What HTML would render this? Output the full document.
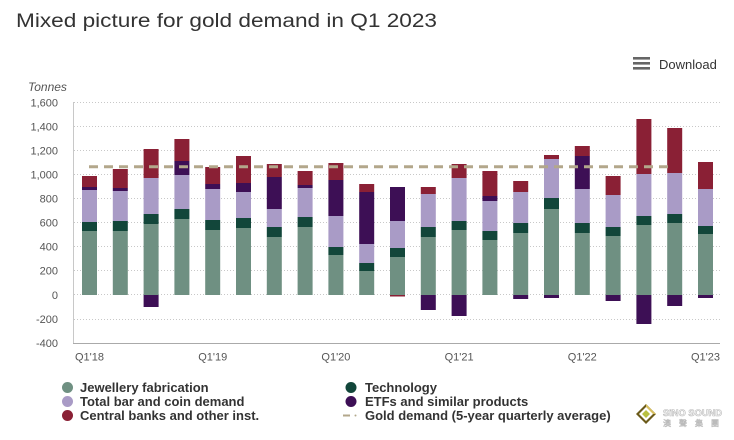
<!DOCTYPE html>
<html><head><meta charset="utf-8"><style>
html,body{margin:0;padding:0;background:#fff;}
svg{display:block;}
text{font-family:"Liberation Sans",Arial,sans-serif;}
</style></head><body>
<svg width="734" height="440" viewBox="0 0 734 440" xmlns="http://www.w3.org/2000/svg">
<rect width="734" height="440" fill="#fff"/>
<text x="16" y="27" font-size="19" fill="#333" textLength="421" lengthAdjust="spacingAndGlyphs">Mixed picture for gold demand in Q1 2023</text>
<g fill="#666"><rect x="633" y="57" width="17" height="2.6"/><rect x="633" y="62" width="17" height="2.6"/><rect x="633" y="67" width="17" height="2.6"/></g>
<text x="659" y="69" font-size="13" fill="#333">Download</text>
<text x="28" y="91" font-size="12" font-style="italic" fill="#555">Tonnes</text>
<g stroke="#c8c8c8" stroke-width="1" stroke-dasharray="1,2">
<line x1="74" x2="720" y1="102.5" y2="102.5"/><line x1="74" x2="720" y1="126.5" y2="126.5"/><line x1="74" x2="720" y1="150.5" y2="150.5"/><line x1="74" x2="720" y1="174.5" y2="174.5"/><line x1="74" x2="720" y1="198.5" y2="198.5"/><line x1="74" x2="720" y1="222.5" y2="222.5"/><line x1="74" x2="720" y1="246.5" y2="246.5"/><line x1="74" x2="720" y1="270.5" y2="270.5"/><line x1="74" x2="720" y1="294.5" y2="294.5"/><line x1="74" x2="720" y1="319.5" y2="319.5"/>
</g>
<line x1="73.5" x2="73.5" y1="102" y2="343" stroke="#c8c8c8"/>
<line x1="73" x2="720" y1="343.5" y2="343.5" stroke="#aaa"/>
<g font-size="11" fill="#555" text-anchor="end">
<text x="58" y="106.5">1,600</text><text x="58" y="130.5">1,400</text><text x="58" y="154.5">1,200</text><text x="58" y="178.5">1,000</text><text x="58" y="202.5">800</text><text x="58" y="226.5">600</text><text x="58" y="250.5">400</text><text x="58" y="274.5">200</text><text x="58" y="299">0</text><text x="58" y="323">-200</text><text x="58" y="347">-400</text>
</g>
<g font-size="11" fill="#555" text-anchor="middle">
<text x="89.5" y="360.5">Q1'18</text><text x="212.7" y="360.5">Q1'19</text><text x="335.9" y="360.5">Q1'20</text><text x="459.1" y="360.5">Q1'21</text><text x="582.3" y="360.5">Q1'22</text><text x="705.5" y="360.5">Q1'23</text>
</g>
<g id="bars">
<!-- bar 0 -->
<rect x="82" y="176" width="15" height="11" fill="#8a2035"/><rect x="82" y="187" width="15" height="3" fill="#3d0f55"/><rect x="82" y="190" width="15" height="32" fill="#a99bc6"/><rect x="82" y="222" width="15" height="9" fill="#12463a"/><rect x="82" y="231" width="15" height="64" fill="#6f9082"/>
<!-- bar 1 -->
<rect x="112.8" y="169" width="15" height="19" fill="#8a2035"/><rect x="112.8" y="188" width="15" height="3" fill="#3d0f55"/><rect x="112.8" y="191" width="15" height="30" fill="#a99bc6"/><rect x="112.8" y="221" width="15" height="10" fill="#12463a"/><rect x="112.8" y="231" width="15" height="64" fill="#6f9082"/>
<!-- bar 2 -->
<rect x="143.6" y="149" width="15" height="29" fill="#8a2035"/><rect x="143.6" y="178" width="15" height="36" fill="#a99bc6"/><rect x="143.6" y="214" width="15" height="10" fill="#12463a"/><rect x="143.6" y="224" width="15" height="71" fill="#6f9082"/><rect x="143.6" y="295" width="15" height="12" fill="#3d0f55"/>
<!-- bar 3 -->
<rect x="174.4" y="139" width="15" height="22" fill="#8a2035"/><rect x="174.4" y="161" width="15" height="14" fill="#3d0f55"/><rect x="174.4" y="175" width="15" height="34" fill="#a99bc6"/><rect x="174.4" y="209" width="15" height="10" fill="#12463a"/><rect x="174.4" y="219" width="15" height="76" fill="#6f9082"/>
<!-- bar 4 -->
<rect x="205.2" y="167" width="15" height="17" fill="#8a2035"/><rect x="205.2" y="184" width="15" height="5" fill="#3d0f55"/><rect x="205.2" y="189" width="15" height="31" fill="#a99bc6"/><rect x="205.2" y="220" width="15" height="10" fill="#12463a"/><rect x="205.2" y="230" width="15" height="65" fill="#6f9082"/>
<!-- bar 5 -->
<rect x="236" y="156" width="15" height="27" fill="#8a2035"/><rect x="236" y="183" width="15" height="9" fill="#3d0f55"/><rect x="236" y="192" width="15" height="26" fill="#a99bc6"/><rect x="236" y="218" width="15" height="10" fill="#12463a"/><rect x="236" y="228" width="15" height="67" fill="#6f9082"/>
<!-- bar 6 -->
<rect x="266.8" y="164" width="15" height="13" fill="#8a2035"/><rect x="266.8" y="177" width="15" height="32" fill="#3d0f55"/><rect x="266.8" y="209" width="15" height="18" fill="#a99bc6"/><rect x="266.8" y="227" width="15" height="10" fill="#12463a"/><rect x="266.8" y="237" width="15" height="58" fill="#6f9082"/>
<!-- bar 7 -->
<rect x="297.6" y="171" width="15" height="14" fill="#8a2035"/><rect x="297.6" y="185" width="15" height="3" fill="#3d0f55"/><rect x="297.6" y="188" width="15" height="29" fill="#a99bc6"/><rect x="297.6" y="217" width="15" height="10" fill="#12463a"/><rect x="297.6" y="227" width="15" height="68" fill="#6f9082"/>
<!-- bar 8 -->
<rect x="328.4" y="163" width="15" height="17" fill="#8a2035"/><rect x="328.4" y="180" width="15" height="36" fill="#3d0f55"/><rect x="328.4" y="216" width="15" height="31" fill="#a99bc6"/><rect x="328.4" y="247" width="15" height="8" fill="#12463a"/><rect x="328.4" y="255" width="15" height="40" fill="#6f9082"/>
<!-- bar 9 -->
<rect x="359.2" y="184" width="15" height="8" fill="#8a2035"/><rect x="359.2" y="192" width="15" height="52" fill="#3d0f55"/><rect x="359.2" y="244" width="15" height="19" fill="#a99bc6"/><rect x="359.2" y="263" width="15" height="8" fill="#12463a"/><rect x="359.2" y="271" width="15" height="24" fill="#6f9082"/>
<!-- bar 10 -->
<rect x="390" y="187" width="15" height="34" fill="#3d0f55"/><rect x="390" y="221" width="15" height="27" fill="#a99bc6"/><rect x="390" y="248" width="15" height="9" fill="#12463a"/><rect x="390" y="257" width="15" height="38" fill="#6f9082"/><rect x="390" y="295" width="15" height="1.5" fill="#8a2035"/>
<!-- bar 11 -->
<rect x="420.8" y="187" width="15" height="7" fill="#8a2035"/><rect x="420.8" y="194" width="15" height="33" fill="#a99bc6"/><rect x="420.8" y="227" width="15" height="10" fill="#12463a"/><rect x="420.8" y="237" width="15" height="58" fill="#6f9082"/><rect x="420.8" y="295" width="15" height="15" fill="#3d0f55"/>
<!-- bar 12 -->
<rect x="451.6" y="164" width="15" height="14" fill="#8a2035"/><rect x="451.6" y="178" width="15" height="43" fill="#a99bc6"/><rect x="451.6" y="221" width="15" height="9" fill="#12463a"/><rect x="451.6" y="230" width="15" height="65" fill="#6f9082"/><rect x="451.6" y="295" width="15" height="21" fill="#3d0f55"/>
<!-- bar 13 -->
<rect x="482.4" y="171" width="15" height="25" fill="#8a2035"/><rect x="482.4" y="196" width="15" height="5" fill="#3d0f55"/><rect x="482.4" y="201" width="15" height="30" fill="#a99bc6"/><rect x="482.4" y="231" width="15" height="9" fill="#12463a"/><rect x="482.4" y="240" width="15" height="55" fill="#6f9082"/>
<!-- bar 14 -->
<rect x="513.2" y="181" width="15" height="11" fill="#8a2035"/><rect x="513.2" y="192" width="15" height="31" fill="#a99bc6"/><rect x="513.2" y="223" width="15" height="10" fill="#12463a"/><rect x="513.2" y="233" width="15" height="62" fill="#6f9082"/><rect x="513.2" y="295" width="15" height="4" fill="#3d0f55"/>
<!-- bar 15 -->
<rect x="544" y="155" width="15" height="4" fill="#8a2035"/><rect x="544" y="159" width="15" height="39" fill="#a99bc6"/><rect x="544" y="198" width="15" height="11" fill="#12463a"/><rect x="544" y="209" width="15" height="86" fill="#6f9082"/><rect x="544" y="295" width="15" height="3" fill="#3d0f55"/>
<!-- bar 16 -->
<rect x="574.8" y="146" width="15" height="10" fill="#8a2035"/><rect x="574.8" y="156" width="15" height="33" fill="#3d0f55"/><rect x="574.8" y="189" width="15" height="34" fill="#a99bc6"/><rect x="574.8" y="223" width="15" height="10" fill="#12463a"/><rect x="574.8" y="233" width="15" height="62" fill="#6f9082"/>
<!-- bar 17 -->
<rect x="605.6" y="176" width="15" height="19" fill="#8a2035"/><rect x="605.6" y="195" width="15" height="32" fill="#a99bc6"/><rect x="605.6" y="227" width="15" height="9" fill="#12463a"/><rect x="605.6" y="236" width="15" height="59" fill="#6f9082"/><rect x="605.6" y="295" width="15" height="6" fill="#3d0f55"/>
<!-- bar 18 -->
<rect x="636.4" y="119" width="15" height="55" fill="#8a2035"/><rect x="636.4" y="174" width="15" height="42" fill="#a99bc6"/><rect x="636.4" y="216" width="15" height="9" fill="#12463a"/><rect x="636.4" y="225" width="15" height="70" fill="#6f9082"/><rect x="636.4" y="295" width="15" height="29" fill="#3d0f55"/>
<!-- bar 19 -->
<rect x="667.2" y="128" width="15" height="45" fill="#8a2035"/><rect x="667.2" y="173" width="15" height="41" fill="#a99bc6"/><rect x="667.2" y="214" width="15" height="9" fill="#12463a"/><rect x="667.2" y="223" width="15" height="72" fill="#6f9082"/><rect x="667.2" y="295" width="15" height="11" fill="#3d0f55"/>
<!-- bar 20 -->
<rect x="698" y="162" width="15" height="27" fill="#8a2035"/><rect x="698" y="189" width="15" height="37" fill="#a99bc6"/><rect x="698" y="226" width="15" height="8" fill="#12463a"/><rect x="698" y="234" width="15" height="61" fill="#6f9082"/><rect x="698" y="295" width="15" height="3" fill="#3d0f55"/>
</g>
<line x1="89" x2="672" y1="166.7" y2="166.7" stroke="#b3a78b" stroke-width="3" stroke-dasharray="9,6"/>
<!-- legend -->
<g font-size="13" font-weight="bold" fill="#333">
<circle cx="67.5" cy="387.5" r="5.5" fill="#6f9082"/><text x="80" y="392">Jewellery fabrication</text>
<circle cx="67.5" cy="401.5" r="5.5" fill="#a99bc6"/><text x="80" y="406">Total bar and coin demand</text>
<circle cx="67.5" cy="415.5" r="5.5" fill="#8a2035"/><text x="80" y="420">Central banks and other inst.</text>
<circle cx="351" cy="387.5" r="5.5" fill="#12463a"/><text x="365" y="392">Technology</text>
<circle cx="351" cy="401.5" r="5.5" fill="#3d0f55"/><text x="365" y="406">ETFs and similar products</text>
<line x1="343" x2="350" y1="415.5" y2="415.5" stroke="#b3a78b" stroke-width="2"/><circle cx="355.5" cy="415.5" r="1" fill="#b3a78b"/><text x="365" y="420">Gold demand (5-year quarterly average)</text>
</g>
<!-- logo -->
<g>
<polygon points="646,404 656,414 646,424 636,414" fill="#6b5a1a"/>
<polygon points="646,404 656,414 646,414" fill="#d8c060"/>
<polygon points="646,407 653,414 646,421 639,414" fill="#fff"/>
<polygon points="646,410 650,414 646,418 642,414" fill="#b8c040"/>
<text x="663" y="416" font-size="9" font-weight="bold" fill="#fff" stroke="#bbb" stroke-width="0.6" textLength="59" lengthAdjust="spacingAndGlyphs">SiNO SOUND</text>
<text x="663" y="426" font-size="8" font-family="'Liberation Sans','Noto Sans CJK TC',sans-serif" fill="#fff" stroke="#bbb" stroke-width="0.5" letter-spacing="8">澳聲集團</text>
</g>
</svg>
</body></html>
